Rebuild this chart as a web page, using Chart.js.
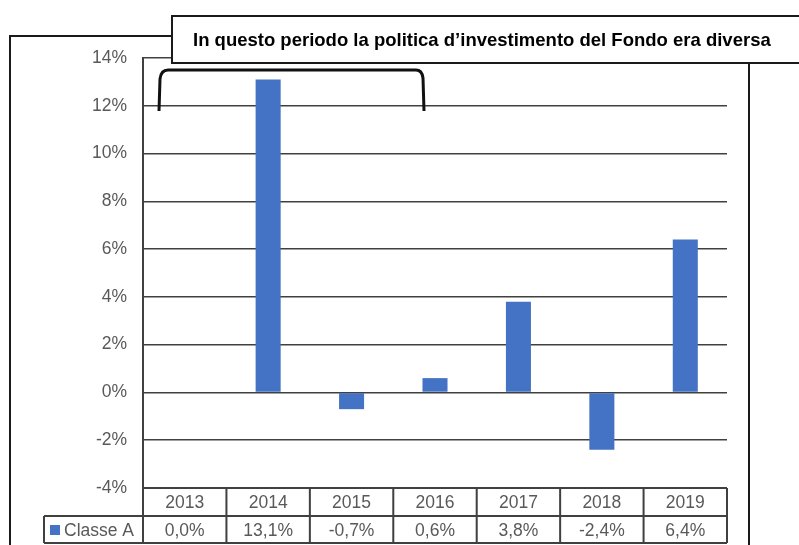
<!DOCTYPE html>
<html>
<head>
<meta charset="utf-8">
<script src="https://cdn.jsdelivr.net/npm/chart.js@4.4.0/dist/chart.umd.min.js"></script>
<style>
  html, body { margin: 0; padding: 0; background: #fff; }
</style>
</head>
<body>
<canvas id="chart" width="799" height="545"></canvas>
<script>
// Dati del grafico
const years = ['2013', '2014', '2015', '2016', '2017', '2018', '2019'];
const classeA = [0.0, 13.1, -0.7, 0.6, 3.8, -2.4, 6.4];
const seriesName = 'Classe A';
const yMin = -4;
const yMax = 14;
const yStep = 2;
const noteText = 'In questo periodo la politica d\u2019investimento del Fondo era diversa';

const FONT = '"Liberation Sans", Arial, sans-serif';
const BLUE = '#4472C4';
const GRID = '#404040';
const TEXT_GREY = '#595959';

function fmtPct(v) {
    return v.toFixed(1).replace('.', ',') + '%';
}

// Tabella dati, cornice, riquadro e parentesi
const decorPlugin = {
    id: 'decor',
    afterDraw(chart) {
        const ctx = chart.ctx;
        const area = chart.chartArea;
        const xs = chart.scales.x;
        const colW = (area.right - area.left) / years.length;
        const rowH = 28;
        const top = area.bottom;

        ctx.save();
        ctx.strokeStyle = GRID;
        ctx.lineWidth = 2;

        // righe della tabella
        ctx.beginPath();
        ctx.moveTo(area.left, top);
        ctx.lineTo(area.right, top);
        ctx.moveTo(44, top + rowH);
        ctx.lineTo(area.right, top + rowH);
        ctx.moveTo(44, top + rowH * 2 - 1);
        ctx.lineTo(area.right, top + rowH * 2 - 1);
        ctx.moveTo(44, top + rowH);
        ctx.lineTo(44, top + rowH * 2 - 1);
        for (let i = 0; i <= years.length; i++) {
            const x = i < years.length ? xs.getPixelForValue(i) - colW / 2 : area.right;
            ctx.moveTo(x, top);
            ctx.lineTo(x, top + rowH * 2 - 1);
        }
        ctx.stroke();

        // testi della tabella
        ctx.fillStyle = TEXT_GREY;
        ctx.font = '17.5px ' + FONT;
        ctx.textAlign = 'center';
        ctx.textBaseline = 'middle';
        years.forEach((y, i) => {
            const x = xs.getPixelForValue(i);
            ctx.fillText(y, x, top + rowH / 2 + 1);
            ctx.fillText(fmtPct(classeA[i]), x, top + rowH * 1.5 + 1);
        });
        ctx.textAlign = 'left';
        ctx.fillText(seriesName, 64, top + rowH * 1.5 + 1);
        ctx.fillStyle = BLUE;
        ctx.fillRect(50, top + rowH + 9, 10, 10);

        // cornice esterna
        ctx.strokeStyle = '#1a1a1a';
        ctx.lineWidth = 2;
        ctx.beginPath();
        ctx.moveTo(10, 545);
        ctx.lineTo(10, 36);
        ctx.lineTo(172, 36);
        ctx.moveTo(749, 63);
        ctx.lineTo(749, 545);
        ctx.stroke();

        // riquadro con nota
        ctx.fillStyle = '#ffffff';
        ctx.fillRect(172, 16, 640, 47);
        ctx.strokeRect(172, 16, 640, 47);
        ctx.fillStyle = '#000000';
        ctx.font = 'bold 18.5px ' + FONT;
        ctx.textAlign = 'left';
        ctx.textBaseline = 'alphabetic';
        ctx.fillText(noteText, 193, 46);

        // parentesi
        ctx.lineWidth = 3;
        ctx.strokeStyle = '#111111';
        ctx.beginPath();
        ctx.moveTo(159, 111);
        ctx.lineTo(160, 79);
        ctx.quadraticCurveTo(161, 70, 168, 70);
        ctx.lineTo(416, 70);
        ctx.quadraticCurveTo(422, 70, 423, 78);
        ctx.lineTo(424, 111);
        ctx.stroke();
        ctx.restore();
    }
};

new Chart(document.getElementById('chart').getContext('2d'), {
    type: 'bar',
    data: {
        labels: years,
        datasets: [{
            label: seriesName,
            data: classeA,
            backgroundColor: BLUE,
            borderWidth: 0,
            barPercentage: 0.3,
            categoryPercentage: 1.0
        }]
    },
    options: {
        responsive: false,
        animation: false,
        layout: {
            padding: { left: 0, top: 58, right: 72, bottom: 57 }
        },
        plugins: {
            legend: { display: false },
            tooltip: { enabled: false },
            title: { display: false }
        },
        scales: {
            x: {
                display: false,
                grid: { display: false }
            },
            y: {
                min: yMin,
                max: yMax,
                afterFit(scale) { scale.width = 143; },
                ticks: {
                    stepSize: yStep,
                    padding: 16,
                    color: TEXT_GREY,
                    font: { family: FONT, size: 17.5 },
                    callback: v => v + '%'
                },
                grid: {
                    color: GRID,
                    lineWidth: 1.5,
                    drawTicks: false
                },
                border: { display: true, color: GRID, width: 2 }
            }
        }
    },
    plugins: [decorPlugin]
});
</script>
</body>
</html>
